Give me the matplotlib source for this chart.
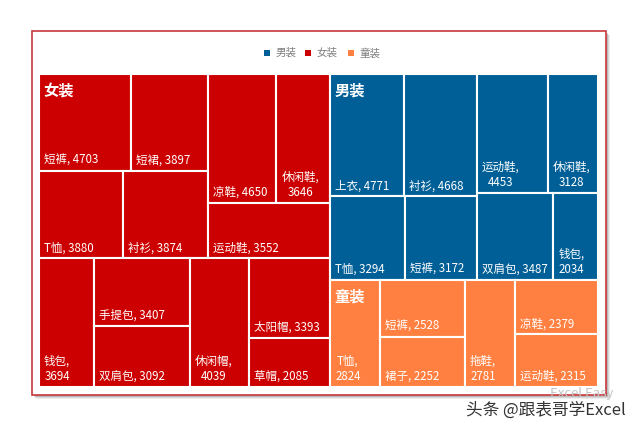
import matplotlib
matplotlib.use('Agg')
import matplotlib.pyplot as plt
from matplotlib.patches import Rectangle

plt.rcParams['font.family'] = ['Noto Sans CJK SC', 'DejaVu Sans']

groups = ['女装', '男装', '童装']
legend_order = ['男装', '女装', '童装']
colors = {'女装': '#CC0000', '男装': '#005F97', '童装': '#FF8040'}

women_names = ['短裤', '短裙', 'T恤', '衬衫', '凉鞋', '休闲鞋', '运动鞋',
               '钱包', '手提包', '双肩包', '休闲帽', '太阳帽', '草帽']
women_values = [4703, 3897, 3880, 3874, 4650, 3646, 3552,
                3694, 3407, 3092, 4039, 3393, 2085]
men_names = ['上衣', '衬衫', 'T恤', '短裤', '运动鞋', '休闲鞋', '双肩包', '钱包']
men_values = [4771, 4668, 3294, 3172, 4453, 3128, 3487, 2034]
kids_names = ['T恤', '短裤', '裙子', '拖鞋', '凉鞋', '运动鞋']
kids_values = [2824, 2528, 2252, 2781, 2379, 2315]

# how the blocks nest, h = side by side, v = stacked, numbers index the lists
women_tree = ('v', [('h', [('v', [('h', [0, 1]), ('h', [2, 3])]),
                           ('v', [('h', [4, 5]), 6])]),
                    ('h', [7, ('v', [8, 9]), 10, ('v', [11, 12])])])
men_tree = ('h', [('v', [('h', [0, 1]), ('h', [2, 3])]),
                  ('v', [('h', [4, 5]), ('h', [6, 7])])])
kids_tree = ('h', [0, ('v', [1, 2]), 3, ('v', [4, 5])])

# labels that Excel broke over two lines
wrapped = {'女装': ['休闲鞋', '钱包', '休闲帽'],
           '男装': ['运动鞋', '休闲鞋', '钱包'],
           '童装': ['T恤', '拖鞋']}


def tree_sum(node, values):
    if isinstance(node, int):
        return values[node]
    return sum(tree_sum(c, values) for c in node[1])


def layout(node, values, x, y, w, h, out):
    if isinstance(node, int):
        out.append((node, x, y, w, h))
        return
    total = tree_sum(node, values)
    for child in node[1]:
        frac = tree_sum(child, values) / total
        if node[0] == 'h':
            layout(child, values, x, y, w * frac, h, out)
            x += w * frac
        else:
            layout(child, values, x, y, w, h * frac, out)
            y += h * frac


def draw_group(ax, group, names, values, tree, x, y, w, h):
    cells = []
    layout(tree, values, x, y, w, h, cells)
    for i, cx, cy, cw, ch in cells:
        ax.add_patch(Rectangle((cx, cy), cw, ch, facecolor=colors[group],
                               edgecolor='white', linewidth=1.5))
        if names[i] in wrapped[group]:
            label = '%s,\n%d' % (names[i], values[i])
        else:
            label = '%s, %d' % (names[i], values[i])
        ax.annotate(label, (cx, cy + ch), xytext=(5, 4),
                    textcoords='offset pixels', ha='left', va='bottom',
                    multialignment='center', color='white', fontsize=8.3,
                    linespacing=1.25)
    ax.annotate(group, (x, y), xytext=(4, -9), textcoords='offset pixels',
                ha='left', va='top', color='white', fontsize=11,
                fontweight='bold')


fig = plt.figure(figsize=(6.4, 4.3), dpi=100, facecolor='white')

# page layer in pixels: card, shadow, legend, watermark
page = fig.add_axes([0, 0, 1, 1])
page.set_xlim(0, 640)
page.set_ylim(430, 0)
page.axis('off')

for off, alpha in [(4, 0.10), (3, 0.15), (2, 0.25)]:
    page.add_patch(Rectangle((32 + off, 31 + off), 574, 364, facecolor='#606060',
                             edgecolor='none', alpha=alpha))
page.add_patch(Rectangle((32, 31), 574, 364, facecolor='white',
                         edgecolor='#C8383C', linewidth=1.2))

for name, sx in zip(legend_order, [267, 308, 351]):
    page.add_patch(Rectangle((sx - 3, 50), 6, 6, facecolor=colors[name],
                             edgecolor='none'))
    page.text(sx + 9, 53, name, fontsize=7.6, color='#7F7F7F', ha='left',
              va='center')

page.text(550, 394, 'Excel Easy', fontsize=9.5, color='#C4C4C4', ha='left',
          va='center')
page.text(466, 410, '头条 @跟表哥学Excel', fontsize=12, color='#333333', ha='left',
          va='center')

# treemap layer, coordinates are shares of the whole
ax = fig.add_axes([39 / 640, 1 - 387 / 430, 559 / 640, 313 / 430])
ax.set_xlim(0, 1)
ax.set_ylim(1, 0)
ax.axis('off')
ax.patch.set_alpha(0)

women_total = sum(women_values)
men_total = sum(men_values)
kids_total = sum(kids_values)
all_total = women_total + men_total + kids_total

women_w = women_total / all_total
men_h = men_total / (men_total + kids_total)

draw_group(ax, '女装', women_names, women_values, women_tree, 0, 0, women_w, 1)
draw_group(ax, '男装', men_names, men_values, men_tree, women_w, 0,
           1 - women_w, men_h)
draw_group(ax, '童装', kids_names, kids_values, kids_tree, women_w, men_h,
           1 - women_w, 1 - men_h)

fig.savefig('out.png', dpi=100)
